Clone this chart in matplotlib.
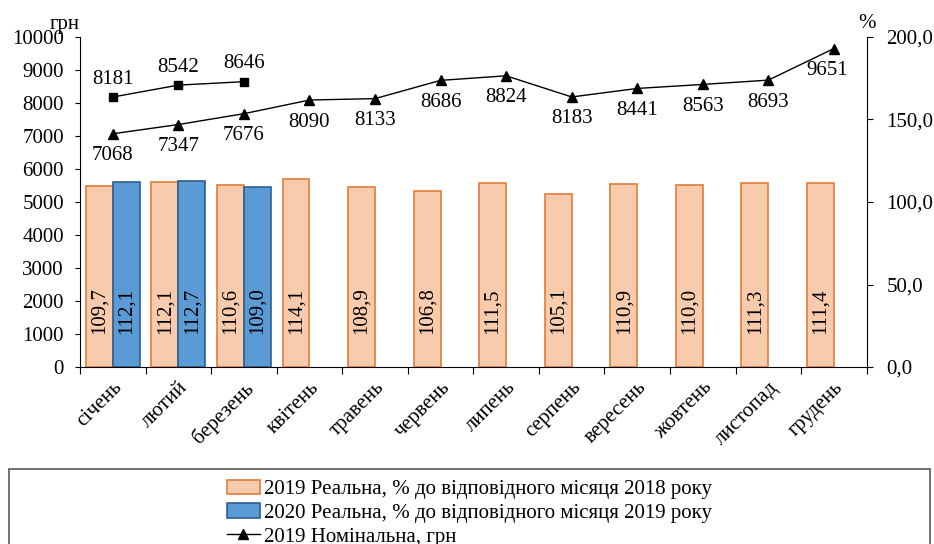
import matplotlib
matplotlib.use("Agg")
import matplotlib.pyplot as plt
import numpy as np
from matplotlib.patches import Rectangle, Patch
from matplotlib.lines import Line2D

plt.rcParams['font.family'] = ['Liberation Serif', 'DejaVu Serif']

months = ['січень', 'лютий', 'березень', 'квітень', 'травень', 'червень',
          'липень', 'серпень', 'вересень', 'жовтень', 'листопад', 'грудень']
real_2019 = [109.7, 112.1, 110.6, 114.1, 108.9, 106.8, 111.5, 105.1, 110.9, 110.0, 111.3, 111.4]
real_2020 = [112.1, 112.7, 109.0]
nom_2019 = [7068, 7347, 7676, 8090, 8133, 8686, 8824, 8183, 8441, 8563, 8693, 9651]
nom_2020 = [8181, 8542, 8646]
left_ticks = list(range(0, 10001, 1000))
right_ticks = [0, 50, 100, 150, 200]

legend_labels = ['2019 Реальна, % до відповідного місяця 2018 року',
                 '2020 Реальна, % до відповідного місяця 2019 року',
                 '2019 Номінальна, грн']

FS = 15
c_or, c_or_e = '#F8CBAD', '#E07B39'
c_bl, c_bl_e = '#5B9BD5', '#2E5D8F'

fig = plt.figure(figsize=(9.34, 5.44), dpi=100)
ax = fig.add_axes([80/934, 1-367/544, (866.7-80)/934, 330/544])
ax2 = ax.twinx()
ax.set_zorder(ax2.get_zorder() + 1)
ax.patch.set_visible(False)

x = np.arange(len(months))
w = 0.41
ax2.bar(x - w/2, real_2019, width=w, color=c_or, edgecolor=c_or_e, linewidth=1.2)
ax2.bar(x[:len(real_2020)] + w/2, real_2020, width=w, color=c_bl, edgecolor=c_bl_e, linewidth=1.2)

def fmt(v):
    return f'{v:.1f}'.replace('.', ',')

for i, v in enumerate(real_2019):
    ax2.text(i - w/2, 34, fmt(v), rotation=90, ha='center', va='center', fontsize=FS)
for i, v in enumerate(real_2020):
    ax2.text(i + w/2, 34, fmt(v), rotation=90, ha='center', va='center', fontsize=FS)

ax.plot(x, nom_2019, color='black', lw=1, marker='^', markersize=7)
ax.plot(x[:len(nom_2020)], nom_2020, color='black', lw=1, marker='s', markersize=5.5)
for i, v in enumerate(nom_2019):
    dx = -7 if i == len(nom_2019) - 1 else 0
    ax.annotate(str(v), (i, v), xytext=(dx, -22), textcoords='offset pixels',
                ha='center', va='center', fontsize=FS)
for i, v in enumerate(nom_2020):
    ax.annotate(str(v), (i, v), xytext=(0, 18), textcoords='offset pixels',
                ha='center', va='center', fontsize=FS)

ax.set_xlim(-0.5, len(months) - 0.5)
ax.set_ylim(0, 10000)
ax2.set_ylim(0, 200)
ax.set_yticks(left_ticks)
ax.set_yticklabels([str(t) for t in left_ticks], fontsize=FS)
ax2.set_yticks(right_ticks)
ax2.set_yticklabels([fmt(t) for t in right_ticks], fontsize=FS)

ax.set_xticks(np.arange(len(months) + 1) - 0.5)
ax.set_xticklabels([])
ax.set_xticks(x, minor=True)
ax.set_xticklabels(months, minor=True, rotation=45, ha='right', va='top',
                   rotation_mode='anchor', fontsize=FS)
ax.tick_params(axis='x', which='minor', length=0, pad=8)
ax.tick_params(axis='x', which='major', length=5, direction='out')
ax.tick_params(axis='y', length=3.6, direction='out', pad=8)
ax2.tick_params(axis='y', length=4.3, direction='out', pad=10)

for a in (ax, ax2):
    a.spines['top'].set_visible(False)
ax.spines['right'].set_visible(False)
ax2.spines['left'].set_visible(False)
ax2.spines['bottom'].set_visible(False)

fig.text(65/934, 1-29/544, 'грн', fontsize=FS, ha='center', va='baseline')
fig.text(867/934, 1-28/544, '%', fontsize=FS, ha='center', va='baseline')

# legend frame
fig.add_artist(Rectangle((9/934, -0.1), 921/934, 0.1 + 1-469/544,
                         transform=fig.transFigure, fill=False,
                         edgecolor='#595959', lw=1.2))
handles = [Patch(facecolor=c_or, edgecolor=c_or_e, lw=1.2),
           Patch(facecolor=c_bl, edgecolor=c_bl_e, lw=1.2),
           Line2D([], [], color='black', lw=1, marker='^', markersize=7)]
fig.legend(handles, legend_labels, loc='upper left',
           bbox_to_anchor=(212/934, 1-465/544), frameon=False, fontsize=FS,
           handlelength=1.6, handletextpad=0.2, labelspacing=0.2, borderpad=0.2)

fig.savefig('out.png', dpi=100)
